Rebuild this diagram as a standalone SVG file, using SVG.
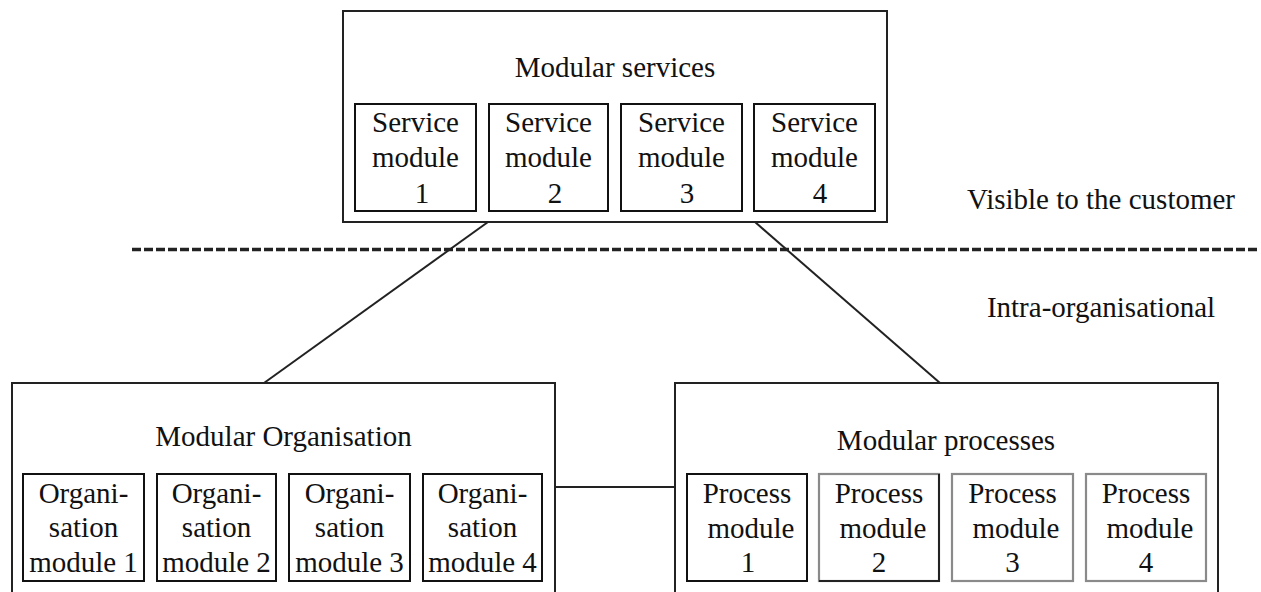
<svg xmlns="http://www.w3.org/2000/svg" width="1261" height="592" viewBox="0 0 1261 592">
<style>
text{font-family:"Liberation Serif","Times New Roman",serif;font-size:29px;fill:#111;text-anchor:middle}
.big{fill:#fff;stroke:#222;stroke-width:2}
.mod{fill:#fff;stroke:#111;stroke-width:2}
.grey{fill:#fff;stroke:#8a8a8a;stroke-width:2.2}
.conn{stroke:#222;stroke-width:2;fill:none}
.dash{stroke:#222;stroke-width:3.5;stroke-dasharray:9 3;fill:none}
.side{text-anchor:middle}
</style>
<rect width="1261" height="592" fill="#fff"/>
<g id="connectors">
<line class="dash" x1="132" y1="249.5" x2="1258" y2="249.5"/>
<line class="conn" x1="488" y1="222" x2="264" y2="383"/>
<line class="conn" x1="755" y1="222" x2="940" y2="383"/>
<line class="conn" x1="555" y1="487" x2="675" y2="487"/>
</g>
<g id="services">
<rect class="big" x="343" y="11" width="544" height="211"/>
<text x="615" y="77">Modular services</text>
<g id="sm1"><rect class="mod" x="355" y="104" width="121" height="107"/><text x="415.5" y="132">Service</text><text x="415.5" y="167">module</text><text x="422" y="203">1</text></g>
<g id="sm2"><rect class="mod" x="489" y="104" width="119" height="107"/><text x="548.5" y="132">Service</text><text x="548.5" y="167">module</text><text x="555" y="203">2</text></g>
<g id="sm3"><rect class="mod" x="621" y="104" width="121" height="107"/><text x="681.5" y="132">Service</text><text x="681.5" y="167">module</text><text x="687" y="203">3</text></g>
<g id="sm4"><rect class="mod" x="754" y="104" width="121" height="107"/><text x="814.5" y="132">Service</text><text x="814.5" y="167">module</text><text x="820" y="203">4</text></g>
</g>
<g id="labels">
<text class="side" x="1101" y="209">Visible to the customer</text>
<text class="side" x="1101" y="317">Intra-organisational</text>
</g>
<g id="organisation">
<rect class="big" x="12" y="383" width="543" height="220"/>
<text x="283.5" y="446">Modular Organisation</text>
<g id="om1"><rect class="mod" x="23" y="474" width="121" height="107"/><text x="83.5" y="503">Organi-</text><text x="83.5" y="537">sation</text><text x="83.5" y="572">module 1</text></g>
<g id="om2"><rect class="mod" x="157" y="474" width="119" height="107"/><text x="216.5" y="503">Organi-</text><text x="216.5" y="537">sation</text><text x="216.5" y="572">module 2</text></g>
<g id="om3"><rect class="mod" x="289" y="474" width="121" height="107"/><text x="349.5" y="503">Organi-</text><text x="349.5" y="537">sation</text><text x="349.5" y="572">module 3</text></g>
<g id="om4"><rect class="mod" x="423" y="474" width="119" height="107"/><text x="482.5" y="503">Organi-</text><text x="482.5" y="537">sation</text><text x="482.5" y="572">module 4</text></g>
</g>
<g id="processes">
<rect class="big" x="675" y="383" width="543" height="220"/>
<text x="946" y="450">Modular processes</text>
<g id="pm1"><rect class="mod" x="687" y="474" width="120" height="107"/><text x="747" y="503">Process</text><text x="751" y="538">module</text><text x="748" y="572">1</text></g>
<g id="pm2"><rect class="grey" x="819" y="474" width="120" height="107"/><path class="conn" d="M939 474V581H819"/><text x="879" y="503">Process</text><text x="883" y="538">module</text><text x="879" y="572">2</text></g>
<g id="pm3"><rect class="grey" x="952" y="474" width="121" height="107"/><text x="1012.5" y="503">Process</text><text x="1016" y="538">module</text><text x="1012.5" y="572">3</text></g>
<g id="pm4"><rect class="grey" x="1086" y="474" width="120" height="107"/><text x="1146" y="503">Process</text><text x="1150" y="538">module</text><text x="1146" y="572">4</text></g>
</g>
</svg>
